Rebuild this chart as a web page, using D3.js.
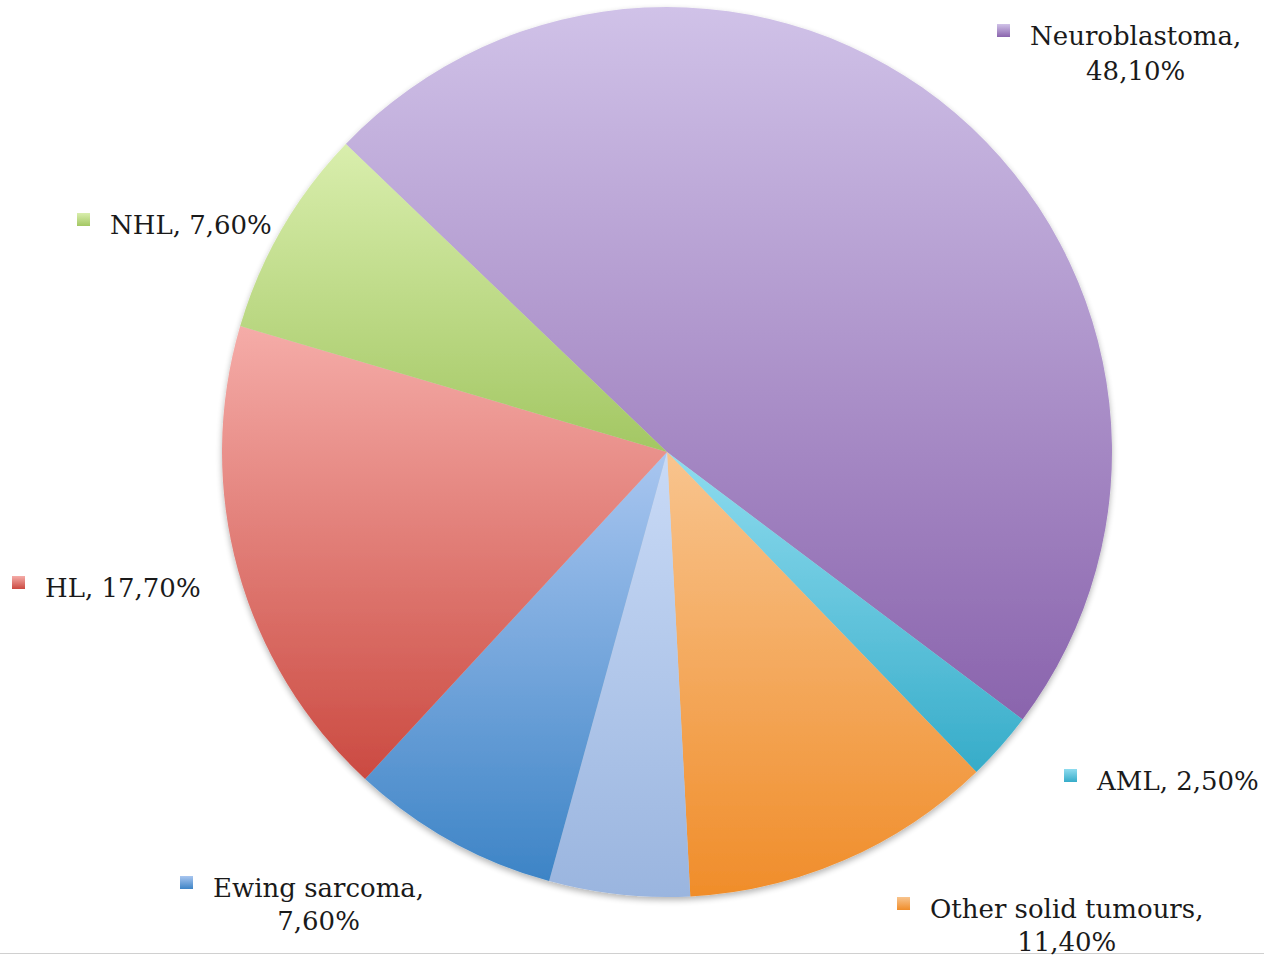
<!DOCTYPE html>
<html>
<head>
<meta charset="utf-8">
<script src="https://d3js.org/d3.v7.min.js"></script>
<style>
  body {margin: 0; background: #fff;}
  .lbl {font: 26px "DejaVu Serif", serif; fill: #1a1a1a;}
</style>
</head>
<body>
<svg id="chart" width="1264" height="956"></svg>
<script>
// data
var categories = ["Neuroblastoma", "AML", "Other solid tumours", "", "Ewing sarcoma", "HL", "NHL"];
var values = [48.1, 2.5, 11.4, 5.1, 7.6, 17.7, 7.6];
var valueLabels = ["48,10%", "2,50%", "11,40%", "", "7,60%", "17,70%", "7,60%"];
var topColors = ["#d0c2e8", "#8fdcef", "#f8c48e", "#c9daf6", "#a9c6f0", "#f5aca8", "#d9eead"];
var bottomColors = ["#8a64ad", "#36acc9", "#f08d2a", "#9ab5df", "#3d84c6", "#cb4a41", "#a3c763"];

var svg = d3.select("#chart"),
    cx = 667, cy = 452, r = 445;

var defs = svg.append("defs");

// soft shadow under the pie
var f = defs.append("filter").attr("id", "shadow")
    .attr("x", "-10%").attr("y", "-10%").attr("width", "120%").attr("height", "120%");
f.append("feGaussianBlur").attr("in", "SourceAlpha").attr("stdDeviation", 3);
f.append("feOffset").attr("dy", 3).attr("result", "ob");
f.append("feComponentTransfer").append("feFuncA").attr("type", "linear").attr("slope", 0.3);
var fm = f.append("feMerge");
fm.append("feMergeNode");
fm.append("feMergeNode").attr("in", "SourceGraphic");

values.forEach(function(v, i) {
    var lg = defs.append("linearGradient").attr("id", "grad" + i)
        .attr("x1", 0).attr("y1", 0).attr("x2", 0).attr("y2", 1);
    lg.append("stop").attr("offset", "0%").attr("stop-color", topColors[i]);
    lg.append("stop").attr("offset", "100%").attr("stop-color", bottomColors[i]);
});

var start = -46.2 * Math.PI / 180;
var pie = d3.pie().sort(null).startAngle(start).endAngle(start + 2 * Math.PI);
var arc = d3.arc().innerRadius(0).outerRadius(r);

var g = svg.append("g")
    .attr("transform", "translate(" + cx + "," + cy + ")")
    .attr("filter", "url(#shadow)");

g.selectAll("path")
    .data(pie(values))
    .enter().append("path")
    .attr("d", arc)
    .attr("fill", function(d, i) { return "url(#grad" + i + ")"; });

// bottom rule
svg.append("line")
    .attr("x1", 0).attr("x2", 1264).attr("y1", 953.5).attr("y2", 953.5)
    .attr("stroke", "#d0d0d0").attr("stroke-width", 1);

// labels: legend square + text
var labelPos = [
    {x: 1030, y: 45, line2: 80},
    {x: 1097, y: 790},
    {x: 930, y: 918, line2: 951},
    null,
    {x: 213, y: 897, line2: 930},
    {x: 45, y: 597},
    {x: 110, y: 234}
];

labelPos.forEach(function(p, i) {
    if (!p) return;
    var lab = svg.append("g");
    lab.append("rect")
        .attr("x", p.x - 33).attr("y", p.y - 21)
        .attr("width", 13).attr("height", 13)
        .attr("fill", "url(#grad" + i + ")");
    if (p.line2) {
        var t = lab.append("text").attr("class", "lbl")
            .attr("x", p.x).attr("y", p.y)
            .text(categories[i] + ",");
        var w = t.node().getComputedTextLength();
        lab.append("text").attr("class", "lbl")
            .attr("x", p.x + w / 2).attr("y", p.line2)
            .attr("text-anchor", "middle")
            .text(valueLabels[i]);
    } else {
        lab.append("text").attr("class", "lbl")
            .attr("x", p.x).attr("y", p.y)
            .text(categories[i] + ", " + valueLabels[i]);
    }
});
</script>
</body>
</html>
